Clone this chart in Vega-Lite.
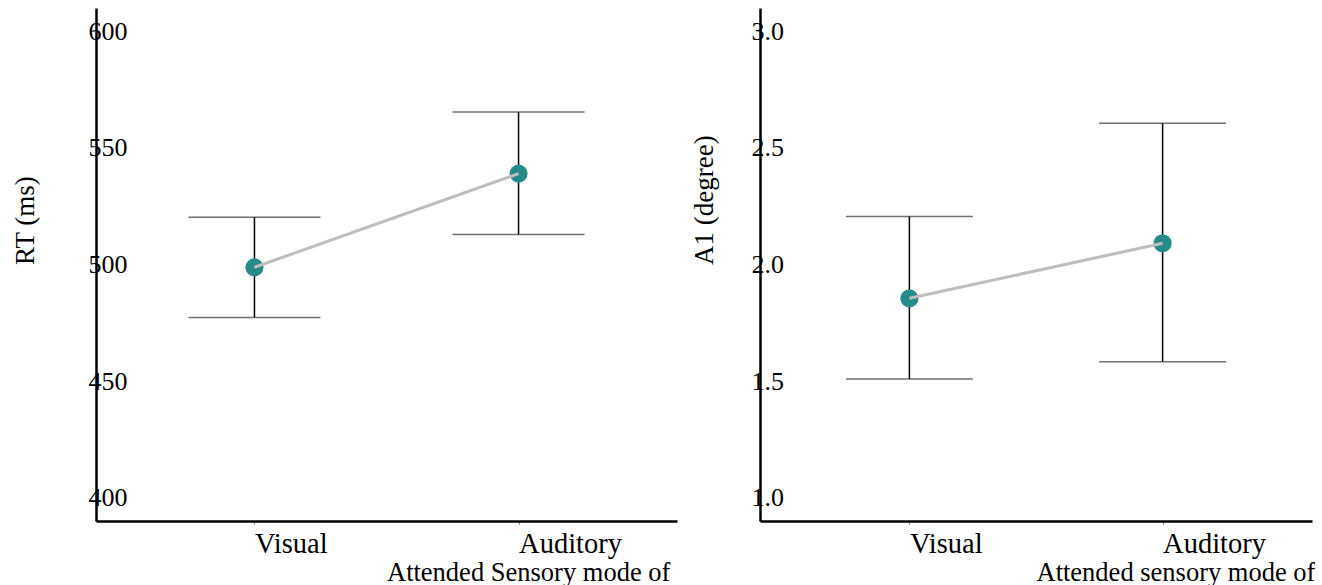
{
  "$schema": "https://vega.github.io/schema/vega-lite/v6.json",
  "padding": {"left": 11, "top": 8, "right": 0, "bottom": 0},
  "autosize": {"type": "pad"},
  "background": "white",
  "config": {
    "view": {"stroke": null},
    "font": "Liberation Serif",
    "axis": {"grid": false, "labelColor": "black", "titleColor": "black", "titleFontWeight": "normal", "domainColor": "black", "domainWidth": 2.5}
  },
  "bounds": "flush",
  "spacing": 83,
  "hconcat": [
    {
      "width": 581,
      "height": 513,
      "data": {"values": [
        {"mode": "Visual", "rt": 498.8, "lo": 477.3, "hi": 520.3},
        {"mode": "Auditory", "rt": 539.0, "lo": 512.9, "hi": 565.4}
      ]},
      "encoding": {
        "x": {"field": "mode", "type": "nominal",
          "scale": {"type": "point", "domain": ["Visual", "Auditory"], "padding": 0.6},
          "axis": {"orient": "bottom", "ticks": true, "tickSize": 3, "tickColor": "#888888", "tickWidth": 1,
            "labelAlign": "left", "labelBaseline": "alphabetic", "labelPadding": 28, "labelFontSize": 28.5, "labelAngle": 0,
            "title": "Attended Sensory mode of", "titleAlign": "left", "titleBaseline": "alphabetic", "titleY": 59, "titleFontSize": 26.5}}
      },
      "layer": [
        {"mark": {"type": "rule", "color": "black", "strokeWidth": 1.5},
         "encoding": {
           "y": {"field": "lo", "type": "quantitative",
             "scale": {"domain": [390, 610], "nice": false, "zero": false},
             "axis": {"values": [400, 450, 500, 550, 600], "ticks": false, "tickSize": 0, "labelAlign": "left", "labelBaseline": "middle", "labelPadding": 8, "labelFontSize": 26,
               "title": "RT (ms)", "titleAlign": "left", "titleAnchor": "middle", "titleBaseline": "alphabetic", "titleX": -63, "titleFontSize": 27}},
           "y2": {"field": "hi"}
         }},
        {"mark": {"type": "tick", "color": "#333333", "thickness": 1.5, "size": 132},
         "encoding": {"y": {"field": "lo", "type": "quantitative"}}},
        {"mark": {"type": "tick", "color": "#333333", "thickness": 1.5, "size": 132},
         "encoding": {"y": {"field": "hi", "type": "quantitative"}}},
        {"mark": {"type": "point", "filled": true, "size": 330, "color": "#268C89", "opacity": 1},
         "encoding": {"y": {"field": "rt", "type": "quantitative"}}},
        {"mark": {"type": "line", "color": "#BEBEBE", "strokeWidth": 3},
         "encoding": {"y": {"field": "rt", "type": "quantitative"}}}
      ]
    },
    {
      "width": 552,
      "height": 513,
      "data": {"values": [
        {"mode": "Visual", "a1": 1.855, "lo": 1.509, "hi": 2.206},
        {"mode": "Auditory", "a1": 2.091, "lo": 1.583, "hi": 2.606}
      ]},
      "encoding": {
        "x": {"field": "mode", "type": "nominal",
          "scale": {"type": "point", "domain": ["Visual", "Auditory"], "padding": 0.59},
          "axis": {"orient": "bottom", "ticks": true, "tickSize": 3, "tickColor": "#888888", "tickWidth": 1,
            "labelAlign": "left", "labelBaseline": "alphabetic", "labelPadding": 28, "labelFontSize": 28.5, "labelAngle": 0,
            "title": "Attended sensory mode of", "titleAlign": "left", "titleBaseline": "alphabetic", "titleY": 59, "titleFontSize": 26.5}}
      },
      "layer": [
        {"mark": {"type": "rule", "color": "black", "strokeWidth": 1.5},
         "encoding": {
           "y": {"field": "lo", "type": "quantitative",
             "scale": {"domain": [0.9, 3.1], "nice": false, "zero": false},
             "axis": {"values": [1, 1.5, 2, 2.5, 3], "format": ".1f", "ticks": false, "tickSize": 0, "labelAlign": "left", "labelBaseline": "middle", "labelPadding": 9, "labelFontSize": 26,
               "title": "A1 (degree)", "titleAlign": "left", "titleAnchor": "middle", "titleBaseline": "alphabetic", "titleX": -48, "titleFontSize": 27}},
           "y2": {"field": "hi"}
         }},
        {"mark": {"type": "tick", "color": "#333333", "thickness": 1.5, "size": 127},
         "encoding": {"y": {"field": "lo", "type": "quantitative"}}},
        {"mark": {"type": "tick", "color": "#333333", "thickness": 1.5, "size": 127},
         "encoding": {"y": {"field": "hi", "type": "quantitative"}}},
        {"mark": {"type": "point", "filled": true, "size": 330, "color": "#268C89", "opacity": 1},
         "encoding": {"y": {"field": "a1", "type": "quantitative"}}},
        {"mark": {"type": "line", "color": "#BEBEBE", "strokeWidth": 3},
         "encoding": {"y": {"field": "a1", "type": "quantitative"}}}
      ]
    }
  ]
}
